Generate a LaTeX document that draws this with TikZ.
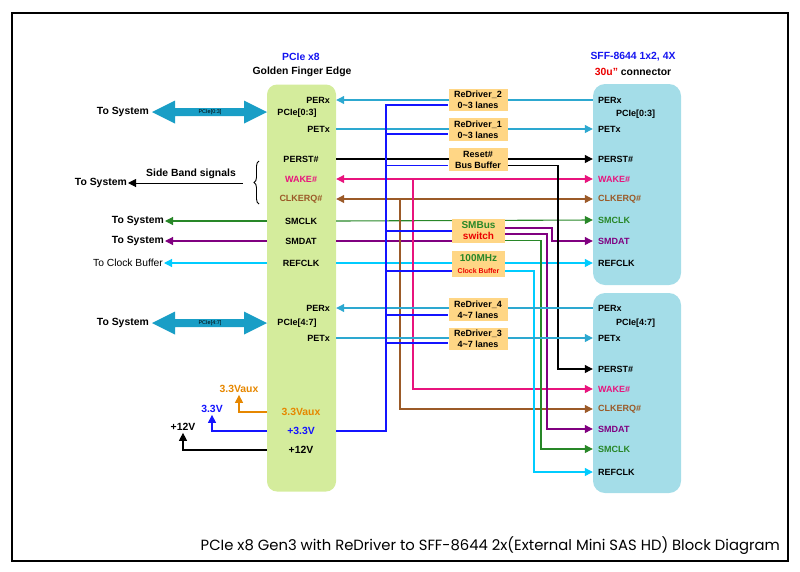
\documentclass[tikz,border=0pt]{standalone}
\usepackage{fontspec}
\setmainfont{Liberation Sans}
\newfontfamily\titlefont{Poppins}
\usetikzlibrary{arrows.meta,decorations.pathreplacing}
\definecolor{gfill}{RGB}{212,236,156}
\definecolor{bfill}{RGB}{164,221,232}
\definecolor{ofill}{RGB}{255,214,133}
\definecolor{magc}{RGB}{232,20,125}
\definecolor{brc}{RGB}{155,90,40}
\definecolor{grc}{RGB}{40,135,40}
\definecolor{puc}{RGB}{128,0,128}
\definecolor{cyc}{RGB}{0,204,255}
\definecolor{lbc}{RGB}{45,168,208}
\definecolor{bigc}{RGB}{25,158,198}
\definecolor{orc}{RGB}{230,135,0}
\definecolor{busc}{RGB}{20,20,255}
\definecolor{redc}{RGB}{235,0,0}
\definecolor{hblue}{RGB}{20,20,240}
\pgfdeclarelayer{back}
\pgfdeclarelayer{lines}
\pgfsetlayers{back,lines,main}
\begin{document}
\begin{tikzpicture}[x=1pt,y=-1pt,
  every node/.style={font=\bfseries\fontsize{9}{10}\selectfont, inner sep=1pt},
  big/.style={font=\bfseries\fontsize{10.4}{12}\selectfont},
  sig/.style={line width=1.1pt},
  bus/.style={line width=1.3pt, busc},
  arr/.style={-{Triangle[length=8pt,width=8pt]}},
  arrb/.style={{Triangle[length=8pt,width=8pt]}-{Triangle[length=8pt,width=8pt]}},
  arrl/.style={{Triangle[length=8pt,width=8pt]}-},
  obox/.style={fill=ofill, align=center, inner sep=0pt, minimum width=59pt, minimum height=22pt, font=\bfseries\fontsize{9}{11}\selectfont},
  pinl/.style={anchor=west},
  pinr/.style={anchor=east}
]
\useasboundingbox (0,0) rectangle (800,571);
\draw[line width=2.2pt] (12,13) rectangle (788,561);

% main boxes
\begin{pgfonlayer}{back}
\node[fill=gfill, rounded corners=10pt, minimum width=69pt, minimum height=407pt, inner sep=0pt] (gf) at (301.5,288) {};
\node[fill=bfill, rounded corners=12pt, minimum width=88pt, minimum height=201pt, inner sep=0pt] (rt) at (637,184.5) {};
\node[fill=bfill, rounded corners=12pt, minimum width=88pt, minimum height=200pt, inner sep=0pt] (rb) at (637,393) {};
\end{pgfonlayer}

% headers
\node[big, text=hblue] (h1) at (301,57) {PCIe x8};
\node[big] (h2) at (302,72) {Golden Finger Edge};
\node[big, text=hblue] (h3) at (633,57) {SFF-8644 1x2, 4X};
\node[big] (h4) at (633,72) {\textcolor{redc}{30u"} connector};

% left box pins
\node[pinr] (gPERx) at (331,100) {PERx};
\node (gP03) at (297,113) {PCIe[0:3]};
\node[pinr] (gPETx) at (331,129) {PETx};
\node (gPERST) at (301,159) {PERST\#};
\node[text=magc] (gWAKE) at (301,179) {WAKE\#};
\node[text=brc] (gCLK) at (301,199) {CLKERQ\#};
\node (gSMCLK) at (301,221) {SMCLK};
\node (gSMDAT) at (301,241) {SMDAT};
\node (gREF) at (301,263) {REFCLK};
\node[pinr] (gPERx2) at (331,308) {PERx};
\node (gP47) at (297,323) {PCIe[4:7]};
\node[pinr] (gPETx2) at (331,338) {PETx};
\node[big, text=orc] (gAux) at (301,412) {3.3Vaux};
\node[big, text=busc] (g33) at (301,431) {+3.3V};
\node[big] (g12) at (301,450) {+12V};

% right top pins
\node[pinl] (rPERx) at (597,100) {PERx};
\node (rP03) at (635.5,114) {PCIe[0:3]};
\node[pinl] (rPETx) at (597,129) {PETx};
\node[pinl] (rPERST) at (597,159) {PERST\#};
\node[pinl, text=magc] (rWAKE) at (597,179) {WAKE\#};
\node[pinl, text=brc] (rCLK) at (597,199) {CLKERQ\#};
\node[pinl, text=grc] (rSMCLK) at (597,220) {SMCLK};
\node[pinl, text=puc] (rSMDAT) at (597,241) {SMDAT};
\node[pinl] (rREF) at (597,263) {REFCLK};
% right bottom pins
\node[pinl] (rPERx2) at (597,308) {PERx};
\node (rP47) at (635.5,323) {PCIe[4:7]};
\node[pinl] (rPETx2) at (597,338) {PETx};
\node[pinl] (rPERST2) at (597,369) {PERST\#};
\node[pinl, text=magc] (rWAKE2) at (597,389) {WAKE\#};
\node[pinl, text=brc] (rCLK2) at (597,409) {CLKERQ\#};
\node[pinl, text=puc] (rSMDAT2) at (597,429) {SMDAT};
\node[pinl, text=grc] (rSMCLK2) at (597,449) {SMCLK};
\node[pinl] (rREF2) at (597,472) {REFCLK};

% middle boxes
\node[obox] (rd2) at (478,100) {ReDriver\_2\\0\textasciitilde3 lanes};
\node[obox, minimum height=23pt] (rd1) at (478,129.5) {ReDriver\_1\\0\textasciitilde3 lanes};
\node[obox, minimum height=23pt] (rst) at (478,159.5) {Reset\#\\Bus Buffer};
\node[obox, minimum width=53pt, minimum height=24pt, font=\bfseries\fontsize{10}{11}\selectfont] (smb) at (478.5,231) {\textcolor{grc}{SMBus}\\\textcolor{redc}{switch}};
\node[obox, minimum width=53pt, minimum height=26pt, font=\bfseries\fontsize{10}{12}\selectfont] (clk) at (478.5,264) {\textcolor{grc}{100MHz}\\\textcolor{redc}{\fontsize{7}{8}\selectfont Clock Buffer}};
\node[obox, minimum height=23pt] (rd4) at (478,309.5) {ReDriver\_4\\4\textasciitilde7 lanes};
\node[obox] (rd3) at (478,339) {ReDriver\_3\\4\textasciitilde7 lanes};

% left side texts
\node[big, pinr] (sysA) at (150,112) {To System};
\node[big, pinr] (sysB) at (150,323) {To System};
\node[big] (sbt) at (191,174) {Side Band signals};
\node[big, pinr] (sysSB) at (128,183) {To System};
\coordinate (sbend) at (243,183);
\node[big, pinr] (sysCK) at (165,221) {To System};
\node[big, pinr] (sysDT) at (165,241) {To System};
\node[pinr, font=\fontsize{10.3}{12}\selectfont] (sysRF) at (164,263) {To Clock Buffer};
\node[big, text=orc, inner sep=2pt] (vaux) at (239,389) {3.3Vaux};
\node[big, text=busc, inner sep=2pt] (v33) at (212,409) {3.3V};
\node[big, inner sep=2pt] (v12) at (183,427) {+12V};

% big arrows
\begin{pgfonlayer}{lines}
\fill[bigc] (152,112) -- (175,100.5) -- (175,108) -- (244,108) -- (244,100.5) -- (267,112) -- (244,123.5) -- (244,116) -- (175,116) -- (175,123.5) -- cycle;
\fill[bigc] (152,323) -- (175,311.5) -- (175,319) -- (244,319) -- (244,311.5) -- (267,323) -- (244,334.5) -- (244,327) -- (175,327) -- (175,334.5) -- cycle;
\end{pgfonlayer}
\node[font=\fontsize{5.5}{6}\selectfont] (bigA) at (210,112) {PCIe[0:3]};
\node[font=\fontsize{5.5}{6}\selectfont] (bigB) at (210,323) {PCIe[4:7]};

% brace
\draw[line width=0.9pt, decorate, decoration={brace, amplitude=5pt}] (259,204) -- (259,161);

\begin{pgfonlayer}{lines}
% lanes 0-3
\draw[sig, lbc, arr] (rt.west|-rPERx) -- (gf.east|-gPERx);
\draw[sig, lbc, arr] (gf.east|-gPETx) -- (rt.west|-rPETx);
% sideband
\draw[sig, black, arr] (gf.east|-gPERST) -- (rt.west|-rPERST);
\draw[sig, magc, arrb] (gf.east|-gWAKE) -- (rt.west|-rWAKE);
\draw[sig, brc, arrb] (gf.east|-gCLK) -- (rt.west|-rCLK);
\draw[sig, grc, arr] (gf.east|-gSMCLK) -- (rt.west|-rSMCLK);
\draw[sig, puc] (gf.east|-gSMDAT) -- (smb.west|-gSMDAT);
\draw[sig, puc, arr] (smb.east|-0,228) -- (552,228) |- (rt.west|-rSMDAT);
\draw[sig, cyc, arr] (gf.east|-gREF) -- (rt.west|-rREF);
% branches to lower connector
\draw[sig, black, arr] (rst.east|-0,165.5) -- (558,165.5) |- (rb.west|-rPERST2);
\draw[sig, magc, arr] (413,179) |- (rb.west|-rWAKE2);
\draw[sig, brc, arr] (400,199) |- (rb.west|-rCLK2);
\draw[sig, puc, arr] (smb.east|-0,234) -- (547,234) |- (rb.west|-rSMDAT2);
\draw[sig, grc, arr] (smb.east|-0,240.5) -- (541,240.5) |- (rb.west|-rSMCLK2);
\draw[sig, cyc, arr] (clk.east|-0,271) -- (534,271) |- (rb.west|-rREF2);
% lanes 4-7
\draw[sig, lbc, arr] (rb.west|-rPERx2) -- (gf.east|-gPERx2);
\draw[sig, lbc, arr] (gf.east|-gPETx2) -- (rb.west|-rPETx2);
% 3.3V bus
\draw[bus] (gf.east|-g33) -| (386,105) -- (rd2.west|-386,105);
\foreach \n/\y in {rd1/134, rst/165.5, smb/231, clk/271, rd4/315, rd3/343}
  \draw[bus] (386,\y) -- (\n.west|-386,\y);
% left outputs
\draw[line width=1pt, black, arrl] (sysSB.east) -- (sbend);
\draw[sig, grc, arr] (gf.west|-gSMCLK) -- (sysCK.east);
\draw[sig, puc, arr] (gf.west|-gSMDAT) -- (sysDT.east);
\draw[sig, cyc, arr] (gf.west|-gREF) -- (sysRF.east);
% power
\draw[sig, orc, arr] (gf.west|-gAux) -| (vaux.south);
\draw[sig, busc, arr] (gf.west|-g33) -| (v33.south);
\draw[sig, black, arr] (gf.west|-g12) -| (v12.south);
\end{pgfonlayer}

% title
\node[anchor=east, font=\titlefont\fontsize{14.8}{17}\selectfont] (title) at (781,546) {PCIe x8 Gen3 with ReDriver to SFF-8644 2x(External Mini SAS HD) Block Diagram};
\end{tikzpicture}
\end{document}
